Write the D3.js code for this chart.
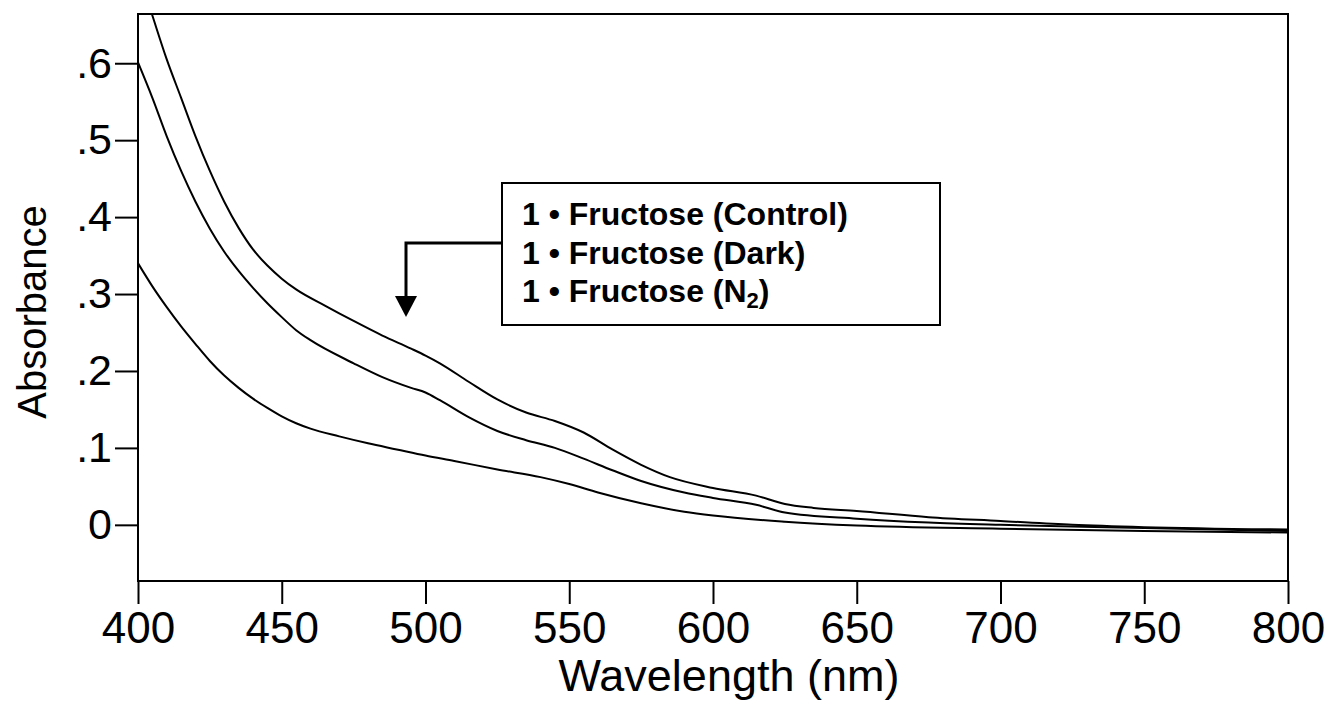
<!DOCTYPE html>
<html>
<head>
<meta charset="utf-8">
<script src="https://cdn.jsdelivr.net/npm/d3@7"></script>
<style>
  html, body { margin: 0; padding: 0; background: #fff; }
  svg { display: block; font-family: Arial, "Liberation Sans", sans-serif; }
</style>
</head>
<body>
<svg id="chart" width="1329" height="709"></svg>
<script>
// ---- data ----
const seriesNames = ["1 \u2022 Fructose (Control)", "1 \u2022 Fructose (Dark)", "1 \u2022 Fructose (N\u2082)"];

const controlWl = [400,405,410,415,420,425,430,435,440,445,450,455,465,475,485,495,500,505,515,525,535,545,555,565,575,585,600,615,625,635,650,675,700,725,750,800];
const controlAbs = [0.72,0.662,0.605,0.555,0.505,0.46,0.42,0.386,0.358,0.337,0.32,0.306,0.285,0.265,0.246,0.229,0.22,0.21,0.186,0.163,0.146,0.135,0.12,0.098,0.078,0.062,0.048,0.038,0.027,0.022,0.018,0.01,0.005,0.0,-0.003,-0.006];

const darkWl = [400,405,410,415,420,425,430,435,440,445,450,455,460,475,485,495,500,505,515,525,535,545,555,565,575,590,600,615,625,650,675,700,750,800];
const darkAbs = [0.601,0.555,0.505,0.46,0.42,0.385,0.355,0.33,0.308,0.288,0.27,0.253,0.24,0.21,0.192,0.178,0.172,0.162,0.14,0.122,0.11,0.1,0.086,0.071,0.057,0.042,0.035,0.026,0.016,0.008,0.003,0.0,-0.004,-0.008];

const n2Wl = [400,405,410,415,420,425,430,435,440,445,450,455,460,470,480,490,500,510,525,540,550,560,575,590,600,625,650,700,750,800];
const n2Abs = [0.34,0.31,0.283,0.258,0.235,0.213,0.194,0.178,0.164,0.152,0.141,0.132,0.125,0.115,0.106,0.098,0.09,0.083,0.072,0.062,0.053,0.042,0.028,0.017,0.012,0.004,-0.001,-0.005,-0.008,-0.01];

const xTicks = [400,450,500,550,600,650,700,750,800];
const yTicks = [0,0.1,0.2,0.3,0.4,0.5,0.6];
const yTickLabels = ["0",".1",".2",".3",".4",".5",".6"];
const xDomain = [400, 800];
const yDomain = [-0.073, 0.664];
const xTitle = "Wavelength (nm)";
const yTitle = "Absorbance";

// ---- drawing ----
const svg = d3.select("#chart");
const x = d3.scaleLinear().domain(xDomain).range([138, 1288]);
const y = d3.scaleLinear().domain(yDomain).range([581, 14]);

const series = [
  controlWl.map((w,i)=>[w, controlAbs[i]]),
  darkWl.map((w,i)=>[w, darkAbs[i]]),
  n2Wl.map((w,i)=>[w, n2Abs[i]])
];

svg.append("defs").append("clipPath").attr("id","clip")
  .append("rect").attr("x", x(xDomain[0])).attr("y", y(yDomain[1]))
  .attr("width", x(xDomain[1]) - x(xDomain[0])).attr("height", y(yDomain[0]) - y(yDomain[1]));

const line = d3.line().x(d=>x(d[0])).y(d=>y(d[1])).curve(d3.curveMonotoneX);
svg.append("g").attr("clip-path","url(#clip)")
  .selectAll("path").data(series).join("path")
  .attr("d", line).attr("fill","none").attr("stroke","#000").attr("stroke-width",2);

// frame
svg.append("rect")
  .attr("x", x(xDomain[0])).attr("y", y(yDomain[1]))
  .attr("width", x(xDomain[1]) - x(xDomain[0])).attr("height", y(yDomain[0]) - y(yDomain[1]))
  .attr("fill","none").attr("stroke","#000").attr("stroke-width",2);

// x axis
const xAxis = d3.axisBottom(x).tickValues(xTicks).tickSize(23).tickPadding(8).tickFormat(d3.format("d"));
const gx = svg.append("g").attr("transform", `translate(0,${y(yDomain[0])})`).call(xAxis);
gx.select(".domain").remove();
gx.selectAll(".tick line").attr("stroke","#000").attr("stroke-width",2);
gx.selectAll(".tick text").attr("font-size",44).attr("fill","#000")
  .attr("font-family","Arial, 'Liberation Sans', sans-serif");

// y axis
const yAxis = d3.axisLeft(y).tickValues(yTicks).tickSize(23).tickPadding(3)
  .tickFormat((d,i)=>yTickLabels[i]);
const gy = svg.append("g").attr("transform", `translate(${x(xDomain[0])},0)`).call(yAxis);
gy.select(".domain").remove();
gy.selectAll(".tick line").attr("stroke","#000").attr("stroke-width",2);
gy.selectAll(".tick text").attr("font-size",43).attr("fill","#000")
  .attr("font-family","Arial, 'Liberation Sans', sans-serif");

// axis titles
svg.append("text").attr("x", 729).attr("y", 691).attr("text-anchor","middle")
  .attr("font-size",45).attr("fill","#000").text(xTitle);
svg.append("text").attr("transform","translate(46,312) rotate(-90)").attr("text-anchor","middle")
  .attr("font-size",40).attr("fill","#000").text(yTitle);

// legend box with connector arrow
const lg = svg.append("g");
lg.append("rect").attr("x",502).attr("y",183).attr("width",438).attr("height",142)
  .attr("fill","#fff").attr("stroke","#000").attr("stroke-width",2);
lg.append("path").attr("d","M502,243 H406 V298").attr("fill","none").attr("stroke","#000").attr("stroke-width",3);
lg.append("path").attr("d","M395,296 L417,296 L406,317 Z").attr("fill","#000");
const lt = lg.selectAll("text.leg").data(seriesNames).join("text")
  .attr("class","leg").attr("x",522).attr("y",(d,i)=>225 + i*38.5)
  .attr("font-size",32).attr("font-weight","bold").attr("fill","#000");
lt.each(function(d){
  const t = d3.select(this);
  const m = d.match(/^(.*N)\u2082(\))$/);
  if (m) {
    t.append("tspan").text(m[1]);
    t.append("tspan").attr("font-size",22).attr("dy",6).text("2");
    t.append("tspan").attr("dy",-6).text(m[2]);
  } else {
    t.text(d);
  }
});
</script>
</body>
</html>
